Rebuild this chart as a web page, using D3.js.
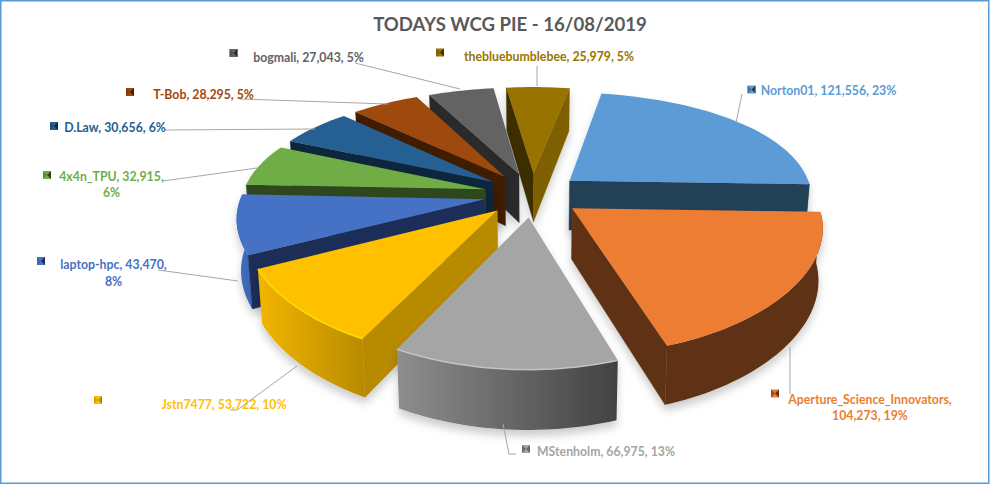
<!DOCTYPE html>
<html><head><meta charset="utf-8">
<script src="https://cdnjs.cloudflare.com/ajax/libs/d3/7.8.5/d3.min.js"></script>
<style>html,body{margin:0;padding:0;background:#fff}svg{display:block}
text{font-family:Lato,"Open Sans",sans-serif;font-weight:700}</style>
</head><body><svg id="c" width="990" height="484"></svg>
<script>
const names=["Norton01","Aperture_Science_Innovators","MStenholm","Jstn7477","laptop-hpc","4x4n_TPU","D.Law","T-Bob","bogmali","thebluebumblebee"];
const values=[121556,104273,66975,53722,43470,32915,30656,28295,27043,25979];
const topColors=["#5B9BD5","#ED7D31","#A5A5A5","#FFC000","#4472C4","#70AD47","#255E91","#9E480E","#636363","#997300"];
const faceColors=["#233F57","#5E3013","#6a6a6a","#B88A00","#1B2E58","#2D461C","#0F263B","#401D05","#2B2B2B","#3E2F00"];
const endFaceColors=["#233F57","#5E3013","#6a6a6a","#B88A00","#1B2E58","#2D461C","#0F263B","#401D05","#6a6a6a","#7F6000"];
const wallFrom=["#3d6f9e","#5E3013","#8E8E8E","#F2B600","#4472C4","#4f7a32","#1c466c","#6f3209","#4a4a4a","#6f5400"];
const wallTo=["#2f5577","#5E3013","#424242","#B88A00","#3A64B0","#4f7a32","#1c466c","#6f3209","#4a4a4a","#6f5400"];
const labelColors=["#5B9BD5","#ED7D31","#A5A5A5","#FFC000","#4472C4","#70AD47","#255E91","#9E480E","#636363","#997300"];
const title="TODAYS WCG PIE - 16/08/2019";

// layout
const labelLayout=[
 {x:828.5,y:[95]},{x:870,y:[404,420]},{x:606,y:[456]},{x:224,y:[409]},
 {x:113.5,y:[269,286]},{x:111.5,y:[181,197]},{x:115,y:[132]},{x:203.5,y:[99]},
 {x:308.5,y:[62]},{x:549,y:[61]}];
const keyPos=[[751.5,89.5],[775,393.5],[526,449],[98,400],[41,261],[47,175],[54,126],[130,92],[233.5,53],[440,52.5]];
const leaders=[
 [[742,94],[736,123]],[[790,347],[790,394]],[[503,424],[509,454],[516,454]],[[297,366],[237,410],[230,410]],
 [[238,281],[158,270]],[[257,168],[163,181]],[[315,129],[165,130]],[[388,104],[240,99]],
 [[460,89],[355,63]],[[537,86],[537,66]]];

const svg=d3.select("#c");
const defs=svg.append("defs");
const f=defs.append("filter").attr("id","sh").attr("x","-20%").attr("y","-20%").attr("width","140%").attr("height","150%");
f.append("feDropShadow").attr("dx",0).attr("dy",6).attr("stdDeviation",4).attr("flood-color","#000").attr("flood-opacity",.2);

svg.append("rect").attr("width",990).attr("height",484).attr("fill","#fff");
svg.append("rect").attr("x",.75).attr("y",.75).attr("width",988).attr("height",482.5)
  .attr("fill","none").attr("stroke","#5B9BD5").attr("stroke-width",1.5);

const CX=532.5,CY=194.5,RX=243,RY=111,DX=7,DY=5,H=50,EXPL=0.2;
const rad=d=>d*Math.PI/180;
function proj(u,v,z){ // z=1 top, 0 bottom
  const sx=DX/(DX-v),sy=DY/(DY-v);
  let x=CX+RX*u*sx,y=CY+RY*v*sy;
  if(!z){y+=H*sx;x=CX+(x-CX)*0.985;}
  return [x,y];
}
const pie=d3.pie().sort(null).value(d=>d).startAngle(rad(10)).endAngle(rad(370));
const arcs=pie(values).map((a,i)=>({...a,i,mid:(a.startAngle+a.endAngle)/2}));
const line=d3.line();
function rimPts(d,a0,a1,z){
  const ex=EXPL*Math.sin(d.mid),ey=-EXPL*Math.cos(d.mid);
  const n=Math.max(2,Math.ceil((a1-a0)/rad(1.5)));
  return d3.range(n+1).map(k=>{const a=a0+(a1-a0)*k/n;return proj(ex+Math.sin(a),ey-Math.cos(a),z);});
}
function apex(d,z){return proj(EXPL*Math.sin(d.mid),-EXPL*Math.cos(d.mid),z);}
function area(p){return -d3.polygonArea(p);}
arcs.forEach(d=>{
  const g=defs.append("linearGradient").attr("id","w"+d.i);
  g.append("stop").attr("offset",0).attr("stop-color",wallFrom[d.i]);
  g.append("stop").attr("offset",1).attr("stop-color",wallTo[d.i]);
});
const order=arcs.slice().sort((a,b)=>d3.ascending(-Math.cos(a.mid),-Math.cos(b.mid)));
const gs=svg.append("g").selectAll("g").data(order).join("g").attr("filter","url(#sh)");
gs.each(function(d){
  const g=d3.select(this);
  const face=(a,col,sign)=>{
    const rT=rimPts(d,a,a,1)[0],rB=rimPts(d,a,a,0)[0],A=apex(d,1),B=apex(d,0);
    const q=[A,rT,rB,B];
    if(area(q)*sign>0) g.append("path").attr("d",line(q)+"Z").attr("fill",col).attr("stroke",col).attr("stroke-width",.4);
  };
  const a0=Math.max(d.startAngle,rad(90)),a1=Math.min(d.endAngle,rad(272));
  if(a1>a0){
    const t=rimPts(d,a0,a1,1),b=rimPts(d,a0,a1,0).reverse();
    g.append("path").attr("d",line(t.concat(b))+"Z").attr("fill",`url(#w${d.i})`);
  }
  face(d.startAngle,faceColors[d.i],-1);
  face(d.endAngle,endFaceColors[d.i],1);
  const top=[apex(d,1)].concat(rimPts(d,d.startAngle,d.endAngle,1));
  g.append("path").attr("d",line(top)+"Z").attr("fill",topColors[d.i]);
  if(a1>a0 && (d.i==2||d.i==3)){
    g.append("path").attr("d",line(rimPts(d,a0,a1,1))).attr("fill","none")
     .attr("stroke",d.i==3?"#FFDD00":"#C4C4C4").attr("stroke-width",1.5);
  }
});

svg.append("g").selectAll("path").data(leaders).join("path")
  .attr("d",d=>line(d)).attr("fill","none").attr("stroke","#A6A6A6").attr("stroke-width",1);

// legend keys
const k=svg.append("g").selectAll("g").data(arcs).join("g")
  .attr("transform",d=>`translate(${keyPos[d.i][0]},${keyPos[d.i][1]})`);
k.append("rect").attr("x",-4).attr("y",-4).attr("width",8).attr("height",8).attr("fill",d=>topColors[d.i]);
k.append("path").attr("d","M4,-4L0,0L4,4Z").attr("fill",d=>faceColors[d.i]);
k.append("path").attr("d","M-4,-4L0,0L-4,4Z").attr("fill",d=>wallTo[d.i]).attr("opacity",.6);

// labels
const total=d3.sum(values),fmt=d3.format(",");
const full=arcs.map(d=>{
  const pct=Math.round(d.value/total*100)+"%";
  const L=labelLayout[d.i];
  const s=`${names[d.i]}, ${fmt(d.value)}, ${pct}`;
  if(L.y.length==1) return [s];
  return d.i==1?[names[d.i]+",",`${fmt(d.value)}, ${pct}`]:[`${names[d.i]}, ${fmt(d.value)},`,pct];
});
svg.append("g").selectAll("g").data(arcs).join("g").each(function(d){
  const L=labelLayout[d.i];
  d3.select(this).selectAll("text").data(full[d.i]).join("text")
    .attr("x",L.x).attr("y",(t,j)=>L.y[j]).attr("text-anchor","middle")
    .attr("font-size",12.3).attr("fill",labelColors[d.i]).text(t=>t);
});
svg.append("text").attr("x",510).attr("y",31).attr("text-anchor","middle")
  .attr("font-size",18.6).attr("fill","#595959").text(title);
</script></body></html>
